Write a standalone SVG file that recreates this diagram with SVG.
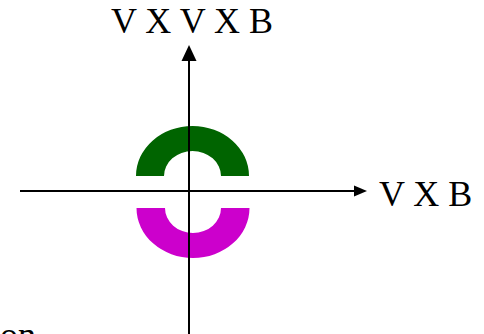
<svg xmlns="http://www.w3.org/2000/svg" width="484" height="334" viewBox="0 0 484 334">
<style>
.lbl{font-family:"Liberation Serif","Times New Roman",serif;font-size:36px;fill:#000}
.axis{stroke:#000;stroke-width:2;fill:none}
.head{fill:#000;stroke:none}
</style>
<rect width="484" height="334" fill="#fff"/>
<g id="green-arc"><path d="M136,176 A56.5,50 0 0 1 249,176 L221,176 A28.5,25 0 0 0 164,176 Z" fill="#006400"/></g>
<g id="magenta-arc"><path d="M136.5,208 A56.5,50 0 0 0 249.5,208 L221,208 A28,25 0 0 1 165,208 Z" fill="#cc00cc"/></g>
<g id="connectors">
<line class="axis" x1="189" y1="334" x2="189" y2="58"/>
<polygon class="head" points="189,45 181.5,61 196.5,61"/>
<line class="axis" x1="20" y1="191" x2="357" y2="191"/>
<polygon class="head" points="367,191 354,185.5 354,196.5"/>
</g>
<g id="label-top"><text class="lbl" x="111" y="33">V X V X B</text></g>
<g id="label-right"><text class="lbl" x="379" y="205.5">V X B</text></g>
<g id="label-bottom"><text class="lbl" x="0" y="347">on</text></g>
</svg>
